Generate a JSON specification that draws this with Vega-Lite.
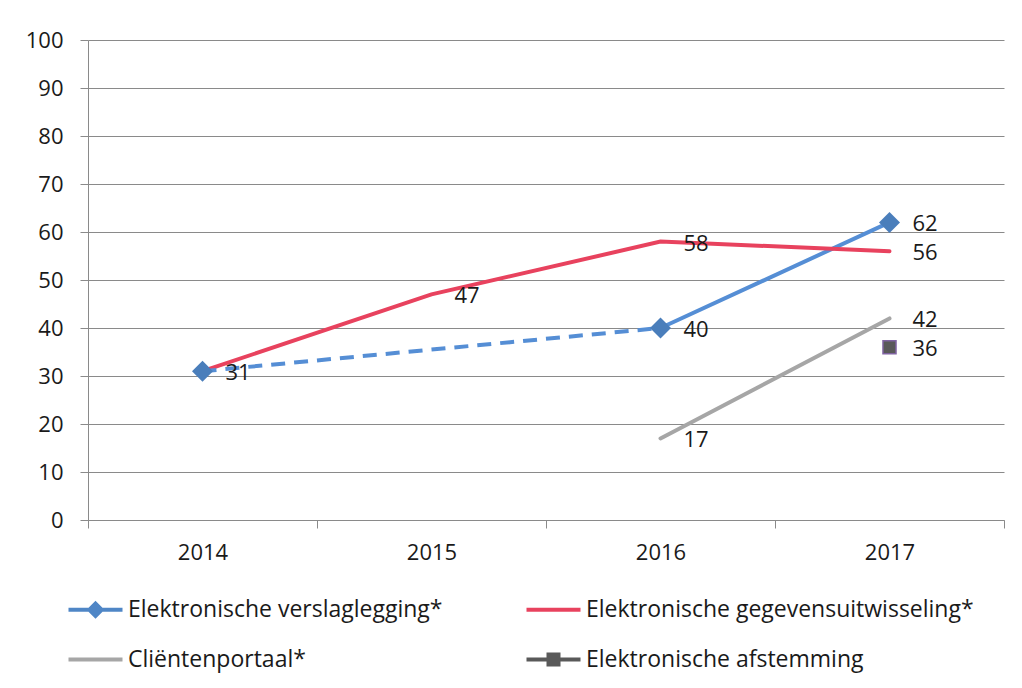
{
  "$schema": "https://vega.github.io/schema/vega-lite/v6.json",
  "autosize": "none",
  "width": 916,
  "height": 480,
  "padding": {"left": 88, "top": 40, "right": 18, "bottom": 168},
  "background": "white",
  "config": {
    "font": "Open Sans",
    "view": {"stroke": null},
    "axis": {
      "labelFont": "Open Sans",
      "labelFontSize": 22,
      "labelColor": "#1a1a1a",
      "domainColor": "#8a8a8a",
      "tickColor": "#8a8a8a",
      "gridColor": "#8a8a8a",
      "domainWidth": 1,
      "tickWidth": 1,
      "gridWidth": 1,
      "tickSize": 8,
      "title": null
    }
  },
  "data": {
    "values": [
      {"reeks": "Elektronische verslaglegging*", "jaar": "2014", "waarde": 31},
      {"reeks": "Elektronische verslaglegging*", "jaar": "2016", "waarde": 40},
      {"reeks": "Elektronische verslaglegging*", "jaar": "2017", "waarde": 62},
      {"reeks": "Elektronische gegevensuitwisseling*", "jaar": "2014", "waarde": 31},
      {"reeks": "Elektronische gegevensuitwisseling*", "jaar": "2015", "waarde": 47},
      {"reeks": "Elektronische gegevensuitwisseling*", "jaar": "2016", "waarde": 58},
      {"reeks": "Elektronische gegevensuitwisseling*", "jaar": "2017", "waarde": 56},
      {"reeks": "Cliëntenportaal*", "jaar": "2016", "waarde": 17},
      {"reeks": "Cliëntenportaal*", "jaar": "2017", "waarde": 42},
      {"reeks": "Elektronische  afstemming", "jaar": "2017", "waarde": 36}
    ]
  },
  "encoding": {
    "x": {
      "field": "jaar",
      "type": "ordinal",
      "scale": {"domain": ["2014", "2015", "2016", "2017"], "paddingInner": 0, "paddingOuter": 0},
      "axis": {"labelAngle": 0, "tickBand": "extent", "grid": false, "labelPadding": 14}
    },
    "y": {
      "field": "waarde",
      "type": "quantitative",
      "scale": {"domain": [0, 100], "nice": false},
      "axis": {"values": [0, 10, 20, 30, 40, 50, 60, 70, 80, 90, 100], "grid": true, "labelPadding": 17}
    }
  },
  "layer": [
    {
      "transform": [{"filter": "!(datum.reeks === 'Elektronische verslaglegging*' && datum.jaar === '2014')"}],
      "mark": {"type": "line", "strokeWidth": 4, "strokeCap": "round"},
      "encoding": {
        "color": {
          "field": "reeks",
          "type": "nominal",
          "scale": {
            "domain": ["Elektronische verslaglegging*", "Elektronische gegevensuitwisseling*", "Cliëntenportaal*", "Elektronische  afstemming"],
            "range": ["#558ED5", "#E8425E", "#A6A6A6", "#595959"]
          },
          "legend": {
            "orient": "none",
            "legendX": -4,
            "legendY": 558,
            "direction": "horizontal",
            "columns": 2,
            "title": null,
            "padding": 0,
            "symbolSize": 400,
            "labelFont": "Open Sans",
            "labelFontSize": 23,
            "labelColor": "#1a1a1a",
            "labelOffset": 21,
            "labelLimit": 0,
            "columnPadding": 83,
            "rowPadding": 26,
            "encode": {
              "symbols": {
                "update": {
                  "shape": {"signal": "datum.value === 'Elektronische verslaglegging*' ? 'M-2.7,-0.2H-0.7L0,-0.9L0.7,-0.2H2.7V0.2H0.7L0,0.9L-0.7,0.2H-2.7Z' : (datum.value === 'Elektronische  afstemming' ? 'M-2.7,-0.2H-0.7V-0.7H0.7V-0.2H2.7V0.2H0.7V0.7H-0.7V0.2H-2.7Z' : 'M-2.7,-0.2H2.7V0.2H-2.7Z')"},
                  "fill": {"signal": "datum.value === 'Elektronische verslaglegging*' ? '#4F86C6' : (datum.value === 'Elektronische gegevensuitwisseling*' ? '#E8425E' : (datum.value === 'Cliëntenportaal*' ? '#A6A6A6' : '#595959'))"},
                  "stroke": {"value": "transparent"},
                  "strokeWidth": {"value": 0},
                  "opacity": {"value": 1}
                }
              }
            }
          }
        }
      }
    },
    {
      "transform": [{"filter": "datum.reeks === 'Elektronische verslaglegging*' && datum.jaar !== '2017'"}],
      "mark": {"type": "line", "strokeWidth": 4, "strokeDash": [14, 9], "color": "#558ED5"},
      "encoding": {}
    },
    {
      "transform": [{"filter": "datum.reeks === 'Elektronische verslaglegging*'"}],
      "mark": {"type": "point", "shape": "diamond", "size": 441, "filled": true, "color": "#4A7EBB", "opacity": 1},
      "encoding": {}
    },
    {
      "transform": [{"filter": "datum.reeks === 'Elektronische  afstemming'"}],
      "mark": {"type": "point", "shape": "square", "size": 170, "filled": true, "fill": "#595959", "stroke": "#8064A2", "strokeWidth": 1.5, "opacity": 1},
      "encoding": {}
    },
    {
      "transform": [{"filter": "!(datum.reeks === 'Elektronische gegevensuitwisseling*' && datum.jaar === '2014')"}],
      "mark": {"type": "text", "align": "left", "baseline": "middle", "dx": 23, "dy": 2, "font": "Open Sans", "fontSize": 22, "color": "#1a1a1a"},
      "encoding": {"text": {"field": "waarde", "type": "quantitative"}}
    }
  ]
}
